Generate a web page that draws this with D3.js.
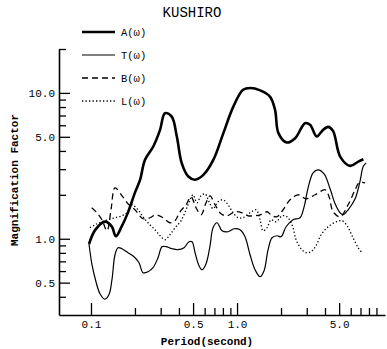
<!DOCTYPE html>
<html><head><meta charset="utf-8">
<script src="https://cdn.jsdelivr.net/npm/d3@7"></script>
<style>body{margin:0;background:#fff} svg{display:block}</style>
</head><body>
<svg id="c" width="387" height="349"></svg>
<script>
const title = "KUSHIRO";
const xLabel = "Period(second)";
const yLabel = "Magnification Factor";
const xMajorTicks = [0.1, 0.5, 1, 5];
const xMinorTicks = [0.2, 0.3, 0.4, 0.6, 0.7, 0.8, 0.9, 2, 3, 4, 6, 7, 8, 9];
const yMajorTicks = [0.5, 1, 5, 10];
const yMinorTicks = [0.4, 0.6, 0.7, 0.8, 0.9, 2, 3, 4, 6, 7, 8, 9, 20];
const seriesNames = ["A(ω)", "T(ω)", "B(ω)", "L(ω)"];

const periodA = [0.097,0.107,0.125,0.139,0.148,0.162,0.179,0.200,0.217,0.234,0.267,0.297,0.321,0.357,0.387,0.418,0.464,0.516,0.588,0.688,0.806,0.943,1.10,1.23,1.44,1.68,1.82,1.92,2.19,2.50,2.92,3.16,3.51,3.82,4.20,4.54,5.08,5.94,6.77,7.33];
const valueA  = [0.92,1.15,1.31,1.21,1.04,1.21,1.51,2.07,2.54,3.47,4.29,5.58,7.26,6.88,5.02,3.30,2.67,2.54,2.74,3.47,5.30,8.05,10.5,10.8,10.4,9.43,7.65,5.30,4.57,4.89,6.20,6.04,5.02,5.49,5.85,5.49,3.66,3.16,3.38,3.51];

const periodT = [0.0969,0.1016,0.1082,0.1152,0.1247,0.1328,0.1392,0.1460,0.1531,0.1631,0.1792,0.1970,0.2132,0.2271,0.2457,0.2659,0.2877,0.3064,0.3264,0.3588,0.3944,0.4335,0.4691,0.4918,0.5158,0.5493,0.5759,0.6134,0.6533,0.6849,0.7295,0.7895,0.8678,0.9538,1.048,1.134,1.227,1.328,1.437,1.531,1.631,1.736,1.879,2.002,2.166,2.418,2.701,2.877,3.064,3.315,3.588,3.944,4.335,4.691,5.076,5.321,5.758,6.431,6.958,7.295,7.648];
const valueT  = [0.924,0.664,0.507,0.420,0.385,0.414,0.524,0.777,0.868,0.854,0.802,0.753,0.685,0.585,0.594,0.633,0.741,0.882,0.882,0.854,0.841,0.868,0.954,0.954,0.802,0.653,0.613,0.674,0.896,1.189,1.287,1.134,1.117,1.171,1.152,1.032,0.777,0.613,0.549,0.604,0.841,1.016,1.048,1.032,1.208,1.349,1.393,1.656,2.235,2.832,2.969,2.788,2.200,1.736,1.507,1.460,1.580,1.879,2.496,3.112,3.315];

const periodB = [0.1011,0.1099,0.1189,0.1287,0.1371,0.1460,0.1631,0.1792,0.2001,0.2271,0.2535,0.2787,0.3113,0.3475,0.3761,0.4071,0.4473,0.4841,0.5238,0.5668,0.6134,0.6533,0.7069,0.7772,0.8542,0.9690,1.082,1.189,1.307,1.437,1.605,1.736,1.879,2.066,2.307,2.617,2.969,3.422,4.006,4.266,4.545,5.076,5.758,6.431,6.848,7.529];
const valueB  = [1.631,1.507,1.349,1.134,1.580,2.235,1.970,1.736,1.580,1.371,1.393,1.460,1.393,1.287,1.328,1.531,1.710,1.940,1.631,1.460,1.765,1.970,1.710,1.483,1.437,1.531,1.507,1.437,1.437,1.460,1.531,1.437,1.415,1.580,1.850,2.002,1.879,2.002,2.166,1.940,1.531,1.415,1.710,2.166,2.418,2.418];

const periodL = [0.0984,0.1065,0.1189,0.1307,0.1460,0.1631,0.1792,0.1909,0.2099,0.2271,0.2457,0.2744,0.3017,0.3213,0.3475,0.3761,0.4134,0.4473,0.4766,0.4995,0.5321,0.5668,0.6036,0.6429,0.6849,0.7412,0.8017,0.8678,0.9389,1.016,1.099,1.227,1.349,1.437,1.507,1.605,1.710,1.850,2.033,2.200,2.307,2.418,2.536,2.744,2.969,3.213,3.475,3.761,4.201,4.766,5.239,5.667,6.134,6.744,7.181];
const valueL  = [1.189,1.247,1.307,1.349,1.393,1.437,1.531,1.710,1.580,1.415,1.287,1.152,1.032,0.984,1.065,1.189,1.328,1.580,1.850,2.002,1.765,1.970,2.033,1.792,1.605,1.792,1.850,1.710,1.507,1.393,1.393,1.507,1.580,1.349,1.134,1.189,1.349,1.307,1.437,1.415,1.328,1.189,0.984,0.854,0.802,0.815,0.896,1.065,1.208,1.307,1.328,1.227,1.048,0.868,0.802];

const series = [
  {name: seriesNames[0], p: periodA, v: valueA, w: 2.6, dash: null},
  {name: seriesNames[1], p: periodT, v: valueT, w: 1.2, dash: null},
  {name: seriesNames[2], p: periodB, v: valueB, w: 1.3, dash: "6,4"},
  {name: seriesNames[3], p: periodL, v: valueL, w: 1.3, dash: "1.3,2.2"}
];

const svg = d3.select("#c");
const font = "'Liberation Mono', 'DejaVu Sans Mono', monospace";
const x = d3.scaleLog().domain([0.0604, 10.3]).range([59, 385]);
const y = d3.scaleLog().domain([0.3, 20]).range([315, 49]);

function styleAxis(g){
  g.select(".domain").attr("stroke","#000").attr("stroke-width",1.6);
  g.selectAll(".tick line").attr("stroke","#000").attr("stroke-width",1.3);
  g.selectAll(".tick text").attr("fill","#000").style("font-family",font).style("font-size","11px");
}
const gx = svg.append("g").attr("transform","translate(0,315)")
  .call(d3.axisBottom(x).tickValues(xMajorTicks).tickSizeInner(-12).tickSizeOuter(0).tickPadding(5).tickFormat(d3.format(".1f")));
styleAxis(gx);
const gx2 = svg.append("g").attr("transform","translate(0,315)")
  .call(d3.axisBottom(x).tickValues(xMinorTicks).tickSizeInner(-7).tickSizeOuter(0).tickFormat(""));
styleAxis(gx2); gx2.select(".domain").remove();

const gy = svg.append("g").attr("transform","translate(59,0)")
  .call(d3.axisLeft(y).tickValues(yMajorTicks).tickSizeInner(-11).tickSizeOuter(0).tickPadding(4).tickFormat(d3.format(".1f")));
styleAxis(gy);
const gy2 = svg.append("g").attr("transform","translate(59,0)")
  .call(d3.axisLeft(y).tickValues(yMinorTicks).tickSizeInner(-7).tickSizeOuter(0).tickFormat(""));
styleAxis(gy2); gy2.select(".domain").remove();

const line = d3.line().x(d => x(d[0])).y(d => y(d[1])).curve(d3.curveCatmullRom.alpha(0.5));
series.forEach(s => {
  const pts = s.p.map((p,i) => [p, s.v[i]]);
  svg.append("path").attr("d", line(pts)).attr("fill","none").attr("stroke","#000")
    .attr("stroke-width", s.w).attr("stroke-dasharray", s.dash).attr("stroke-linejoin","round");
});

// legend
const lg = svg.append("g");
series.forEach((s,i) => {
  const yy = 32 + i*23;
  lg.append("line").attr("x1", 82).attr("x2", 115).attr("y1", yy).attr("y2", yy)
    .attr("stroke","#000").attr("stroke-width", s.w).attr("stroke-dasharray", s.dash);
  lg.append("text").attr("x", 121).attr("y", yy + 3.5).text(s.name)
    .style("font-family",font).style("font-size","10.5px").attr("fill","#000");
});

svg.append("text").attr("x",192).attr("y",17).attr("text-anchor","middle").text(title)
  .style("font-family",font).style("font-size","14px").attr("fill","#000");
svg.append("text").attr("x",207).attr("y",345).attr("text-anchor","middle").text(xLabel)
  .style("font-family",font).style("font-size","11px").style("font-weight","bold").attr("fill","#000");
svg.append("text").attr("transform","translate(18,180) rotate(-90)").attr("text-anchor","middle").text(yLabel)
  .style("font-family",font).style("font-size","11px").style("font-weight","bold").attr("fill","#000");
</script>
</body></html>
